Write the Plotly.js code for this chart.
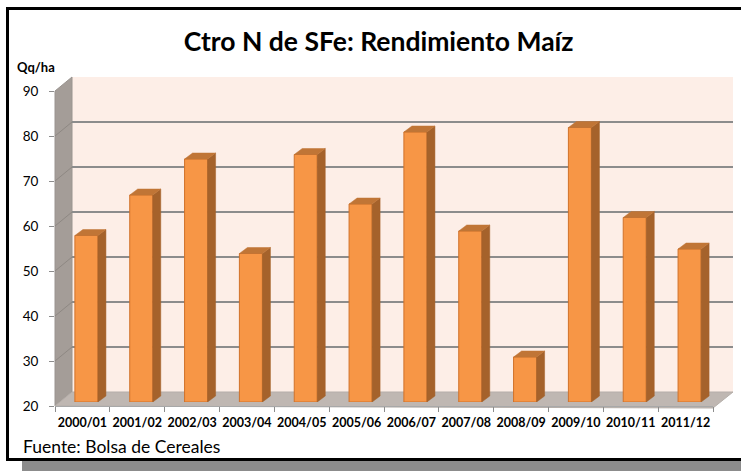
<!DOCTYPE html>
<html>
<head>
<meta charset="utf-8">
<script src="https://cdn.plot.ly/plotly-3.0.1.min.js"></script>
<style>html,body{margin:0;padding:0;background:#fff;}#chart{width:741px;height:471px;}</style>
</head>
<body>
<div id="chart"></div>
<script>
// ---- data ----
const categories = ['2000/01','2001/02','2002/03','2003/04','2004/05','2005/06','2006/07','2007/08','2008/09','2009/10','2010/11','2011/12'];
const rendimiento = [57, 66, 74, 53, 75, 64, 80, 58, 30, 81, 61, 54];
const yTickVals = [20, 30, 40, 50, 60, 70, 80, 90];
const titleText = 'Ctro N de SFe: Rendimiento Maíz';
const unitText = 'Qq/ha';
const sourceText = 'Fuente: Bolsa de Cereales';

// ---- geometry (pixel layout) ----
const W = 741, H = 471;
const px = x => x / W;
const py = y => 1 - y / H;
const yMin = 20, yMax = 90;
const FRONT = {l: 55, r: 713, t: 91, b: 406};
const BARS  = {l: 59, r: 717, t: 87, b: 402};
const BACK  = {l: 72, r: 733, t: 77, b: 392};
const barWidth = 0.42, hw = barWidth / 2;
const depthX = 0.146, depthY = 1.333;   // bar 3D depth in axis units

// derived 3D faces of bars from the data
const idx = categories.map((_, i) => i);
const sideX = [], sideY = [], topX = [], topY = [];
idx.forEach(i => {
  const v = rendimiento[i];
  sideX.push(i + hw, i + hw, i + hw + depthX, i + hw + depthX, i + hw, null);
  sideY.push(yMin, v, v + depthY, yMin + depthY, yMin, null);
  topX.push(i - hw, i + hw, i + hw + depthX, i - hw + depthX, i - hw, null);
  topY.push(v, v, v + depthY, v + depthY, v, null);
});

const traces = [
  // back wall grid subplot (x/y)
  {type: 'scatter', x: [], y: [], xaxis: 'x', yaxis: 'y', hoverinfo: 'skip'},
  // bars (x2/y2)
  {type: 'bar', x: idx, y: rendimiento.map(v => v - yMin), base: yMin, width: barWidth,
   xaxis: 'x2', yaxis: 'y2',
   marker: {color: '#F79646', line: {color: '#D0722A', width: 1}}, hoverinfo: 'skip'},
  {type: 'scatter', x: sideX, y: sideY, xaxis: 'x2', yaxis: 'y2', mode: 'lines', fill: 'toself',
   fillcolor: '#A5622B', line: {color: '#A5622B', width: 0.5}, hoverinfo: 'skip', cliponaxis: false},
  {type: 'scatter', x: topX, y: topY, xaxis: 'x2', yaxis: 'y2', mode: 'lines', fill: 'toself',
   fillcolor: '#C07536', line: {color: '#C07536', width: 0.5}, hoverinfo: 'skip', cliponaxis: false},
  // front axes (x3/y3)
  {type: 'scatter', x: categories, y: rendimiento, xaxis: 'x3', yaxis: 'y3', mode: 'markers',
   marker: {opacity: 0}, hoverinfo: 'skip'}
];

const shapes = [];
// back wall
shapes.push({type: 'rect', xref: 'paper', yref: 'paper', layer: 'below',
  x0: px(BACK.l), x1: px(BACK.r), y0: py(BACK.b), y1: py(BACK.t),
  fillcolor: '#FDEEE7', line: {width: 0}});
// side wall
shapes.push({type: 'path', xref: 'paper', yref: 'paper', layer: 'below',
  path: `M${px(FRONT.l)},${py(FRONT.t)} L${px(BACK.l)},${py(BACK.t)} L${px(BACK.l)},${py(BACK.b)} L${px(FRONT.l)},${py(FRONT.b)} Z`,
  fillcolor: '#A49D98', line: {color: '#9A9490', width: 1}});
// floor
shapes.push({type: 'path', xref: 'paper', yref: 'paper', layer: 'below',
  path: `M${px(FRONT.l)},${py(FRONT.b)} L${px(BACK.l)},${py(BACK.b)} L${px(BACK.r)},${py(BACK.b)} L${px(FRONT.r)},${py(FRONT.b + 2)} Z`,
  fillcolor: '#BFB7B2', line: {color: '#B5AEA9', width: 1}});
// side wall diagonal grid lines
yTickVals.slice(1, -1).forEach(v => {
  const f = FRONT.b - (v - yMin) * (FRONT.b - FRONT.t) / (yMax - yMin);
  const b = BACK.b - (v - yMin) * (BACK.b - BACK.t) / (yMax - yMin);
  shapes.push({type: 'line', xref: 'paper', yref: 'paper', layer: 'below',
    x0: px(FRONT.l), y0: py(f), x1: px(BACK.l), y1: py(b), line: {color: '#8E8883', width: 1}});
});
// chart border and shadow
shapes.push({type: 'rect', xref: 'paper', yref: 'paper', layer: 'above',
  x0: px(22), x1: 1.01, y0: py(471), y1: py(461), fillcolor: '#8C8C8C', line: {width: 0}});
shapes.push({type: 'rect', xref: 'paper', yref: 'paper', layer: 'above',
  x0: px(7.5), x1: 1.01, y0: py(459.5), y1: py(8.5), line: {color: '#000', width: 3}});

const font = 'Lato, "Open Sans", sans-serif';

const layout = {
  width: W, height: H,
  margin: {l: 0, r: 0, t: 0, b: 0},
  paper_bgcolor: '#FFFFFF', plot_bgcolor: 'rgba(0,0,0,0)',
  showlegend: false, hovermode: false,
  font: {family: font, color: '#000'},
  title: {text: titleText, x: 0.511, xanchor: 'center', y: py(42), yanchor: 'middle',
          font: {family: font, size: 26.5, weight: 'bold', color: '#000'}},
  xaxis: {domain: [px(BACK.l), px(BACK.r)], anchor: 'y', range: [0, 1], visible: false, fixedrange: true},
  yaxis: {domain: [py(BACK.b), py(BACK.t)], anchor: 'x', range: [yMin, yMax], tickvals: yTickVals,
          showgrid: true, gridcolor: '#8C8C8C', gridwidth: 1.5, zeroline: false, showline: false,
          showticklabels: false, ticks: '', fixedrange: true},
  xaxis2: {domain: [px(BARS.l), px(BARS.r)], anchor: 'y2', range: [-0.5, categories.length - 0.5],
           visible: false, fixedrange: true},
  yaxis2: {domain: [py(BARS.b), py(BARS.t)], anchor: 'x2', range: [yMin, yMax], visible: false, fixedrange: true},
  xaxis3: {domain: [px(FRONT.l), px(FRONT.r)], anchor: 'y3', type: 'category',
           range: [-0.5, categories.length - 0.5], tickson: 'boundaries', ticks: 'outside', ticklen: 5,
           tickcolor: '#8C8C8C', showgrid: false, zeroline: false, showline: true, linecolor: '#A8A8A8',
           tickangle: 0,
           tickfont: {family: font, size: 12.5, weight: 'bold', color: '#000'}, ticklabelstandoff: 5,
           fixedrange: true},
  yaxis3: {domain: [py(FRONT.b), py(FRONT.t)], anchor: 'x3', range: [yMin, yMax], tickvals: yTickVals,
           ticks: 'outside', ticklen: 5, tickcolor: '#8C8C8C', showgrid: false, zeroline: false,
           showline: false, tickfont: {family: font, size: 13.5, color: '#000'}, ticklabelstandoff: 8,
           fixedrange: true},
  shapes: shapes,
  annotations: [
    {text: unitText, xref: 'paper', yref: 'paper', x: px(15), y: py(67), xanchor: 'left', yanchor: 'middle',
     showarrow: false, font: {family: font, size: 13, weight: 'bold', color: '#000'}},
    {text: sourceText, xref: 'paper', yref: 'paper', x: px(21), y: py(446), xanchor: 'left', yanchor: 'middle',
     showarrow: false, font: {family: font, size: 17.5, color: '#000'}}
  ]
};

Plotly.newPlot('chart', traces, layout, {staticPlot: true, displayModeBar: false});
</script>
</body>
</html>
